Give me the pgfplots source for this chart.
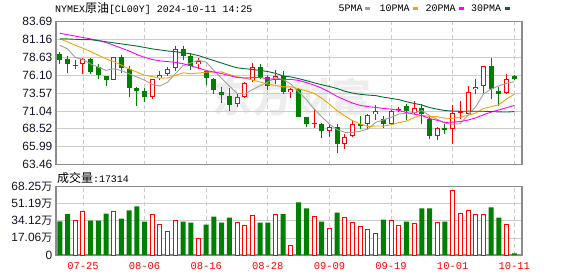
\documentclass[border=0pt]{standalone}
\usepackage{fontspec}
\setmainfont{Liberation Sans}
\newfontfamily\cjk{Noto Sans CJK SC}
\newfontfamily\mono{Liberation Mono}
\usepackage{pgfplots}
\usepackage{pgfplotstable}
\pgfplotsset{compat=1.18}

\definecolor{kred}{RGB}{255,0,0}
\definecolor{kgreen}{RGB}{0,128,0}
\definecolor{maA}{RGB}{160,160,160}
\definecolor{maB}{RGB}{240,165,0}
\definecolor{maC}{RGB}{255,0,255}
\definecolor{maD}{RGB}{0,110,50}
\definecolor{gridc}{RGB}{204,204,204}
\definecolor{framec}{RGB}{140,140,140}
\definecolor{labc}{RGB}{20,20,40}

% candles: index, open, high, low, close
\pgfplotstableread{
i o h l c
2 77.45 78.20 77.03 77.55
3 77.69 78.53 76.19 78.35
7 75.39 78.63 75.39 78.63
12 73.00 75.58 72.67 75.58
13 75.63 76.66 75.44 76.10
14 76.28 77.22 75.95 76.99
15 77.13 80.22 76.75 79.80
18 77.60 78.53 76.98 78.06
23 71.97 73.38 71.59 73.00
24 73.05 75.11 72.91 74.97
25 75.34 77.74 75.16 77.22
28 75.39 76.89 74.88 75.96
30 73.70 74.31 72.91 74.08
33 69.25 71.22 68.69 69.35
35 68.22 69.16 67.38 68.83
37 66.34 67.75 65.64 67.42
38 67.47 69.72 67.38 69.25
40 69.16 70.67 68.46 70.47
41 70.56 71.88 69.72 71.03
43 69.16 71.13 69.06 71.03
44 71.22 71.60 70.94 71.36
46 70.80 72.44 70.66 71.50
49 67.52 68.78 67.00 68.69
51 68.55 71.88 66.34 70.75
52 70.89 72.44 69.86 71.03
53 70.56 74.55 70.47 73.66
54 74.08 75.58 73.47 74.45
55 74.55 77.36 73.61 77.36
58 73.52 76.28 73.38 75.49
}\redc

\pgfplotstableread{
i o h l c
0 79.14 79.33 77.60 78.25
1 78.44 78.86 76.42 77.60
4 78.39 78.53 76.28 76.56
5 77.22 77.69 75.49 76.05
6 76.00 76.00 74.60 75.34
8 78.63 78.91 76.42 77.13
9 76.94 77.36 73.05 74.22
10 74.31 74.45 71.69 73.89
11 73.89 74.31 72.25 73.05
16 79.80 80.22 78.30 78.77
17 78.77 79.28 76.89 77.36
19 76.75 76.89 74.64 75.63
20 75.58 75.72 73.47 73.97
21 73.75 74.41 72.20 73.24
22 73.14 74.31 71.03 71.88
26 77.27 77.60 75.58 75.86
27 75.86 76.09 73.97 74.55
29 75.96 76.75 73.38 73.75
31 74.08 74.22 70.24 70.24
32 70.24 70.24 68.78 69.25
34 69.25 69.34 67.19 68.22
36 68.83 69.16 65.17 66.34
39 69.10 70.33 68.46 69.05
42 69.86 70.33 68.60 69.16
45 71.78 71.97 69.72 70.99
47 71.50 71.97 69.25 70.56
48 69.86 70.33 67.05 67.52
50 68.69 69.25 67.75 68.31
56 77.36 78.53 72.77 74.08
57 73.85 74.41 71.73 73.38
59 75.91 76.05 75.34 75.53
}\greenc

\pgfplotstableread{
i ma5 ma10 ma20 ma30
0 80.30 81.20 82.00 81.20
1 79.80 80.80 81.80 81.20
2 78.60 80.30 81.60 81.15
3 78.30 79.90 81.40 81.10
4 77.66 79.40 81.20 81.10
5 77.22 78.90 81.00 80.95
6 76.77 78.40 80.70 80.80
7 76.99 78.00 80.30 80.65
8 76.74 77.50 79.90 80.50
9 76.27 76.97 79.50 80.35
10 75.84 76.53 79.00 80.20
11 75.38 76.08 78.60 80.00
12 74.77 75.88 78.30 79.80
13 74.57 75.66 78.10 79.65
14 75.12 75.70 78.00 79.50
15 76.30 76.07 77.90 79.40
16 77.45 76.42 77.70 79.25
17 77.80 76.29 77.40 79.10
18 78.20 76.39 77.10 78.85
19 77.92 76.52 76.75 78.50
20 76.76 76.53 76.53 78.15
21 75.65 76.55 76.32 77.80
22 74.56 76.18 76.03 77.45
23 73.54 75.87 75.77 77.13
24 73.41 75.67 75.69 77.00
25 74.06 75.41 75.74 76.90
26 74.59 75.12 75.77 76.75
27 75.12 74.84 75.57 76.60
28 75.71 74.63 75.51 76.35
29 75.47 74.44 75.48 75.98
30 74.84 74.45 75.49 75.84
31 73.72 74.16 75.36 75.60
32 72.66 73.89 75.04 75.32
33 71.33 73.52 74.70 75.02
34 70.23 72.85 74.26 74.74
35 69.18 72.01 73.71 74.50
36 68.40 71.06 73.09 74.20
37 68.03 70.35 72.60 73.83
38 68.01 69.67 72.15 73.56
39 68.17 69.20 71.82 73.39
40 68.50 68.84 71.65 73.28
41 69.43 68.92 71.54 73.21
42 69.78 68.91 71.40 72.99
43 70.14 69.08 71.30 72.82
44 70.61 69.39 71.12 72.64
45 70.71 69.61 70.81 72.34
46 70.81 70.12 70.59 72.10
47 71.09 70.44 70.40 71.88
48 70.39 70.27 69.97 71.52
49 69.85 70.23 69.72 71.29
50 69.32 70.02 69.43 71.10
51 69.17 69.99 69.46 71.03
52 69.26 70.18 69.55 71.00
53 70.49 70.44 69.76 71.01
54 71.64 70.75 70.07 71.00
55 73.45 71.39 70.50 71.00
56 74.12 71.65 70.89 70.95
57 74.59 71.93 71.19 70.91
58 74.95 72.72 71.50 70.89
59 75.17 73.41 71.82 70.95
}\mas

% volume (10k lots)
\pgfplotstableread{
i v
2 34.0
3 43.1
7 43.1
12 40.1
13 30.3
14 23.9
15 34.0
18 16.8
23 32.0
24 29.3
25 39.1
28 40.4
30 9.1
33 38.4
35 26.9
37 37.0
38 32.0
39 28.0
40 25.9
41 21.9
43 34.0
44 29.0
46 31.3
49 32.0
51 64.3
52 41.1
53 44.1
54 40.4
55 40.4
58 30.3
}\volr

\pgfplotstableread{
i v
0 33.7
1 40.8
4 34.4
5 34.4
6 41.4
8 36.4
9 44.5
10 48.5
11 33.3
16 33.3
17 32.3
19 30.3
20 38.4
21 32.3
22 37.4
26 32.3
27 32.3
29 40.8
31 52.5
32 46.5
34 33.3
36 42.4
42 35.4
45 33.3
47 46.5
48 46.5
50 33.3
56 47.5
57 37.4
59 1.73
}\volg

\pgfplotsset{
  kbase/.style={
    scale only axis, width=466bp,
    xmin=-0.5, xmax=60,
    axis line style={draw=framec, line width=1.1bp},
    major tick length=0pt,
    xtick={3,11,19,27,35,43,51,59},
    xmajorgrids, ymajorgrids,
    x grid style={draw=gridc, line width=0.8bp, dash pattern=on 4bp off 3bp},
    y grid style={draw=gridc, line width=0.8bp},
    yticklabel style={font=\fontsize{12}{12}\selectfont, text=labc, anchor=east, inner sep=0pt, xshift=-3.5bp},
  },
}

\begin{document}
\begin{tikzpicture}[x=1bp,y=1bp]
\path[use as bounding box] (0,0) rectangle (578,276);
\node[text=black!7, font=\cjk\bfseries\fontsize{40}{40}\selectfont, inner sep=0pt] at (292,179) {东方财富};

% title
\node[anchor=west, inner sep=0pt] at (55,267.5) {\mono\fontsize{10}{12}\selectfont NYMEX{\cjk\fontsize{12}{12}\selectfont 原油}[CL00Y] 2024-10-11 14:25};
% legend
\node[anchor=west, inner sep=0pt] at (338.5,267.5) {\mono\fontsize{10}{12}\selectfont 5PMA};
\fill[maA] (365,266.2) rectangle (370,268.6);
\node[anchor=west, inner sep=0pt] at (379.5,267.5) {\mono\fontsize{10}{12}\selectfont 10PMA};
\fill[maB] (413,266.2) rectangle (418,268.6);
\node[anchor=west, inner sep=0pt] at (425.5,267.5) {\mono\fontsize{10}{12}\selectfont 20PMA};
\fill[maC] (459,266.2) rectangle (464,268.6);
\node[anchor=west, inner sep=0pt] at (471,267.5) {\mono\fontsize{10}{12}\selectfont 30PMA};
\fill[maD] (504.7,266.2) rectangle (509.7,268.6);

% volume caption
\node[anchor=west, inner sep=0pt] at (57,98.5) {{\cjk\fontsize{12}{12}\selectfont 成交量}{\mono\fontsize{10}{12}\selectfont :17314}};

\begin{axis}[kbase,
  at={(56bp,111.3bp)}, anchor=south west, height=143.4bp,
  ymin=63.46, ymax=83.69,
  ytick={63.46,65.99,68.52,71.04,73.57,76.10,78.63,81.16,83.69},
  yticklabels={63.46,65.99,68.52,71.04,73.57,76.10,78.63,81.16,83.69},
  xticklabels={},
]
% red wicks
\addplot[draw=none, mark=none, forget plot,
  error bars/.cd, y dir=both, y explicit, error mark=none,
  error bar style={draw=kred, line width=1bp}]
  table[x=i, y expr={(\thisrow{h}+\thisrow{l})/2}, y error expr={(\thisrow{h}-\thisrow{l})/2}] {\redc};
% red bodies (outline)
\addplot[draw=none, mark=none, forget plot,
  error bars/.cd, y dir=both, y explicit, error mark=none,
  error bar style={draw=kred, line width=5bp}]
  table[x=i, y expr={(\thisrow{o}+\thisrow{c})/2}, y error expr={max((\thisrow{c}-\thisrow{o})/2,0.07)}] {\redc};
% red bodies (hollow inside)
\addplot[draw=none, mark=none, forget plot,
  error bars/.cd, y dir=both, y explicit, error mark=none,
  error bar style={draw=white, line width=3bp}]
  table[x=i, y expr={(\thisrow{o}+\thisrow{c})/2}, y error expr={max((\thisrow{c}-\thisrow{o})/2-0.14,0)}] {\redc};
% green wicks
\addplot[draw=none, mark=none, forget plot,
  error bars/.cd, y dir=both, y explicit, error mark=none,
  error bar style={draw=kgreen, line width=1bp}]
  table[x=i, y expr={(\thisrow{h}+\thisrow{l})/2}, y error expr={(\thisrow{h}-\thisrow{l})/2}] {\greenc};
% green bodies
\addplot[draw=none, mark=none, forget plot,
  error bars/.cd, y dir=both, y explicit, error mark=none,
  error bar style={draw=kgreen, line width=5bp}]
  table[x=i, y expr={(\thisrow{o}+\thisrow{c})/2}, y error expr={max(abs(\thisrow{o}-\thisrow{c})/2,0.07)}] {\greenc};
% moving averages
\addplot[maA, line width=0.9bp, mark=none] table[x=i, y=ma5] {\mas};
\addplot[maB, line width=0.9bp, mark=none] table[x=i, y=ma10] {\mas};
\addplot[maC, line width=0.9bp, mark=none] table[x=i, y=ma20] {\mas};
\addplot[maD, line width=0.9bp, mark=none] table[x=i, y=ma30] {\mas};
\end{axis}

\begin{axis}[kbase,
  at={(56bp,21bp)}, anchor=south west, height=68.3bp,
  ymin=0, ymax=68.25,
  ytick={0,17.06,34.12,51.19,68.25},
  yticklabels={0,17.06{\cjk\fontsize{11}{11}\selectfont 万},34.12{\cjk\fontsize{11}{11}\selectfont 万},51.19{\cjk\fontsize{11}{11}\selectfont 万},68.25{\cjk\fontsize{11}{11}\selectfont 万}},
  xticklabels={07-25,08-06,08-16,08-28,09-09,09-19,10-01,10-11},
  xticklabel style={font=\mono\fontsize{10.5}{10}\selectfont, text=kred, anchor=center, inner sep=0pt, yshift=-11bp},
]
\addplot[ybar, bar width=5bp, bar shift=0pt, fill=kgreen, draw=none] table[x=i, y=v] {\volg};
\addplot[ybar, bar width=4bp, bar shift=0pt, fill=white, draw=kred, line width=1bp] table[x=i, y=v] {\volr};
\end{axis}
\end{tikzpicture}
\end{document}
